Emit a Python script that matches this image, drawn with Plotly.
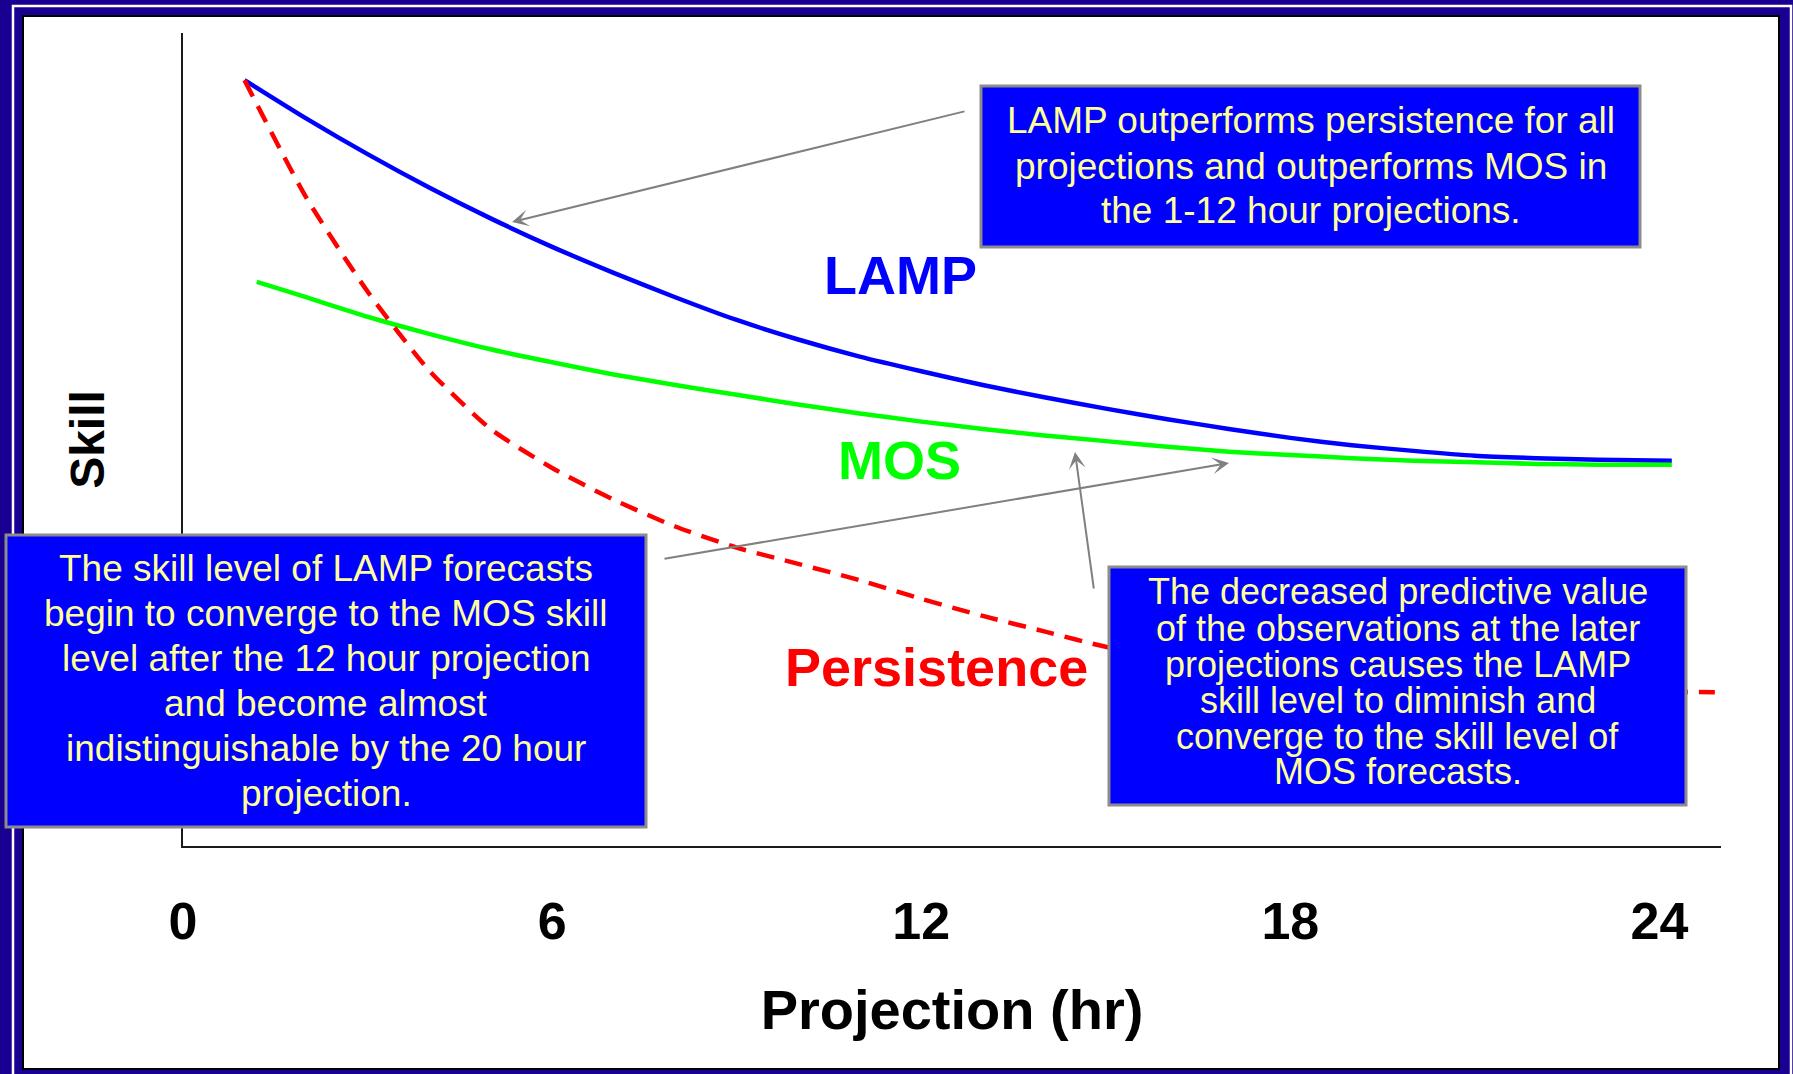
import plotly.graph_objects as go

# ---------------- data ----------------
lamp_hours = [1, 2, 3, 4, 5, 6, 7, 8, 9, 10, 11, 12, 13, 14, 15, 16, 17, 18, 19, 20, 21, 22, 23, 24.2]
lamp_skill = [0.942, 0.895, 0.851, 0.810, 0.772, 0.737, 0.705, 0.675, 0.647, 0.623, 0.602, 0.584,
              0.567, 0.552, 0.538, 0.525, 0.513, 0.502, 0.493, 0.486, 0.480, 0.477, 0.475, 0.474]

mos_hours = [1.2, 2, 3, 4, 5, 6, 7, 8, 9, 10, 11, 12, 13, 14, 15, 16, 17, 18, 19, 20, 21, 22, 23, 24.2]
mos_skill = [0.694, 0.675, 0.651, 0.630, 0.611, 0.595, 0.580, 0.567, 0.555, 0.543, 0.532, 0.522,
             0.513, 0.505, 0.498, 0.491, 0.485, 0.481, 0.477, 0.474, 0.472, 0.470, 0.469, 0.469]

pers_hours = [1, 2, 3, 4, 5, 6, 7, 8, 9, 10, 11, 12, 13, 14, 15, 16, 17, 18, 19, 20, 21, 22, 23, 24, 24.9]
pers_skill = [0.942, 0.798, 0.682, 0.585, 0.513, 0.465, 0.426, 0.393, 0.367, 0.347, 0.327, 0.304,
              0.283, 0.264, 0.245, 0.233, 0.223, 0.215, 0.208, 0.202, 0.198, 0.194, 0.191, 0.190, 0.189]

x_tick_vals = [0, 6, 12, 18, 24]
x_tick_text = ["0", "6", "12", "18", "24"]

top_box_lines = ["LAMP outperforms persistence for all",
                 "projections and outperforms MOS in",
                 "the 1-12 hour projections."]
left_box_lines = ["The skill level of LAMP forecasts",
                  "begin to converge to the MOS skill",
                  "level after the 12 hour projection",
                  "and become almost",
                  "indistinguishable by the 20 hour",
                  "projection."]
right_box_lines = ["The decreased predictive value",
                   "of the observations at the later",
                   "projections causes the LAMP",
                   "skill level to diminish and",
                   "converge to the skill level of",
                   "MOS forecasts."]

# ---------------- layout helpers ----------------
W_FIG, H_FIG = 1793, 1074
ML, MR, MT, MB = 183, 72, 33, 228
PW = W_FIG - ML - MR
PH = H_FIG - MT - MB


def px_x(X):
    return (X - ML) / PW


def px_y(Y):
    return (H_FIG - MB - Y) / PH


FONT = "Liberation Sans, Arial, sans-serif"
BOX_FILL = "#0000FF"
BOX_LINE = "#8C8C8C"
TXT_YEL = "#FFFF99"
ARROW_C = "#808080"

fig = go.Figure()
fig.add_trace(go.Scatter(x=lamp_hours, y=lamp_skill, mode="lines", name="LAMP",
                         line=dict(color="#0000FF", width=4.5, shape="spline", smoothing=0.6)))
fig.add_trace(go.Scatter(x=mos_hours, y=mos_skill, mode="lines", name="MOS",
                         line=dict(color="#00FF00", width=4.5, shape="spline", smoothing=0.6)))
fig.add_trace(go.Scatter(x=pers_hours, y=pers_skill, mode="lines", name="Persistence",
                         line=dict(color="#FF0000", width=4.5, shape="spline", smoothing=0.6,
                                   dash="18px,11px")))

shapes = []
# white slide panel with black border
shapes.append(dict(type="rect", xref="paper", yref="paper", layer="below",
                   x0=px_x(23), x1=px_x(1779), y0=px_y(16), y1=px_y(1069),
                   fillcolor="white", line=dict(color="black", width=2)))
# thin white frame line
shapes.append(dict(type="rect", xref="paper", yref="paper", layer="below",
                   x0=px_x(13), x1=px_x(1791), y0=px_y(6), y1=px_y(1090),
                   fillcolor="rgba(0,0,0,0)", line=dict(color="white", width=2.5)))

boxes = [((981, 86, 1640, 247), top_box_lines, [121, 166, 210], 37),
         ((6, 535, 646, 827), left_box_lines, [568, 613, 658, 703, 748, 793], 37),
         ((1109, 567, 1686, 805), right_box_lines, [591, 628, 664, 700, 736, 771], 36)]

annotations = []
for (x0, y0, x1, y1), lines, ys, fs in boxes:
    shapes.append(dict(type="rect", xref="paper", yref="paper", layer="above",
                       x0=px_x(x0), x1=px_x(x1), y0=px_y(y0), y1=px_y(y1),
                       fillcolor=BOX_FILL, line=dict(color=BOX_LINE, width=3)))
    cx = (x0 + x1) / 2
    for txt, yy in zip(lines, ys):
        annotations.append(dict(xref="paper", yref="paper", x=px_x(cx), y=px_y(yy),
                                text=txt, showarrow=False, xanchor="center", yanchor="middle",
                                font=dict(family=FONT, size=fs, color=TXT_YEL)))

# series labels
for txt, cx, cy, col, sz in [("LAMP", 900, 275, "#0000FF", 54),
                             ("MOS", 899, 460, "#00FF00", 54),
                             ("Persistence", 936, 667, "#FF0000", 54)]:
    annotations.append(dict(xref="paper", yref="paper", x=px_x(cx), y=px_y(cy), text=txt,
                            showarrow=False, xanchor="center", yanchor="middle",
                            font=dict(family=FONT, size=sz, color=col, weight="bold")))

# arrows (tip, tail) in pixels
for (tx, ty), (sx, sy) in [((512, 222), (966, 111)),
                           ((1229, 463), (663, 559)),
                           ((1075, 452), (1094, 590))]:
    annotations.append(dict(xref="paper", yref="paper", x=px_x(tx), y=px_y(ty),
                            ax=sx - tx, ay=sy - ty, text="", showarrow=True,
                            arrowhead=3, arrowsize=1.4, arrowwidth=2, arrowcolor=ARROW_C,
                            standoff=0, startstandoff=0))

fig.update_layout(
    width=W_FIG, height=H_FIG,
    margin=dict(l=ML, r=MR, t=MT, b=MB, autoexpand=False),
    paper_bgcolor="#1a0092",
    plot_bgcolor="rgba(0,0,0,0)",
    showlegend=False,
    shapes=shapes,
    annotations=annotations,
    xaxis=dict(range=[0, 25], showgrid=False, zeroline=False, showline=True,
               linecolor="#1a1a1a", linewidth=2, tickvals=x_tick_vals, ticktext=x_tick_text,
               ticks="outside", ticklen=29, tickcolor="rgba(0,0,0,0)",
               tickfont=dict(family=FONT, size=52, color="black", weight="bold"),
               title=dict(text="Projection (hr)", standoff=40,
                          font=dict(family=FONT, size=56, color="black", weight="bold"))),
    yaxis=dict(range=[0, 1], showgrid=False, zeroline=False, showline=True,
               linecolor="#1a1a1a", linewidth=2, showticklabels=False, ticks="",
               title=dict(text="Skill", standoff=61,
                          font=dict(family=FONT, size=48, color="black", weight="bold"))),
)

fig.write_html("out.html", config={"displayModeBar": False})
